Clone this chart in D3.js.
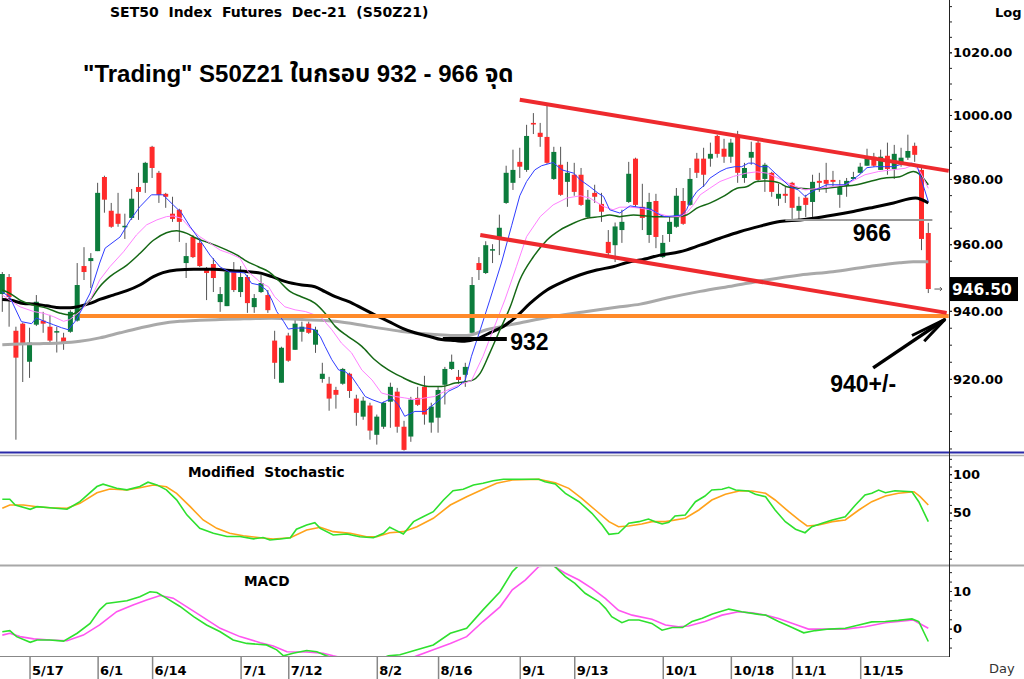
<!DOCTYPE html>
<html>
<head>
<meta charset="utf-8">
<script src="https://cdn.jsdelivr.net/npm/d3@7"></script>
<style>
  body { margin: 0; background: #fff; }
  svg { display: block; font-family: "DejaVu Sans", Verdana, sans-serif; }
</style>
</head>
<body>
<svg id="chart" width="1024" height="679"></svg>
<script>
// ---- data ----
// bar index 0 = 11 May 2021, last bar = index 136
let tickIdx = [4, 14, 22, 35, 42, 55, 64, 76, 84, 97, 107, 116, 126];
let tickLabels = ["5/17", "6/1", "6/14", "7/1", "7/12", "8/2", "8/16", "9/1", "9/13", "10/1", "10/18", "11/1", "11/15"];

let opens = [945.0,950.1,934.1,936.2,925.0,935.9,937.1,935.3,933.6,932.1, 933.8,937.1,953.4,954.9,957.9,980.6,970.2,969.3,965.2,968.0,
  977.5,978.8,990.0,981.9,975.4,969.3,970.5,954.3,962.2,960.4, 952.2,954.0,942.6,941.4,951.6,945.6,950.1,941.1,945.6,944.7,
  931.2,918.9,932.7,928.5,933.8,936.2,930.0,920.0,918.6,916.8, 918.6,921.5,914.3,909.1,912.3,903.9,906.2,913.4,916.3,906.2,
  903.4,914.5,917.7,907.4,908.8,918.3,922.9,920.6,921.2,933.5, 954.3,951.3,958.2,962.2,972.6,978.8,985.3,982.8,997.5,994.4,
  993.1,980.0,984.4,979.1,981.3,981.3,968.3,975.7,972.3,960.7, 959.7,964.3,972.9,986.3,971.4,962.8,973.2,956.1,963.1,965.3,
  973.2,972.0,986.3,986.3,986.3,993.4,989.4,986.9,993.8,980.3, 986.6,991.3,980.0,981.9,973.9,975.4,978.8,970.2,974.2,972.9,
  979.4,979.7,979.7,975.1,977.8,980.0,981.9,984.1,986.9,982.8, 987.2,983.1,985.0,986.6,990.3,982.8,963.4];
let highs = [951.6,951.0,935.3,936.5,935.0,944.7,939.7,938.8,935.3,933.5, 940.2,954.3,959.1,957.3,978.8,981.0,972.6,975.7,969.3,976.9,
  981.9,985.3,990.3,982.5,975.7,974.5,970.8,960.4,962.8,961.9, 953.1,955.8,947.1,952.2,954.6,953.4,950.7,945.0,950.7,946.2,
  934.1,929.4,933.5,937.9,936.8,936.8,935.3,924.7,920.6,917.7, 923.2,921.8,915.4,914.8,913.1,909.7,913.4,918.9,917.4,907.9,
  914.8,917.7,920.9,913.1,917.7,923.5,927.1,922.6,924.7,950.1, 956.1,960.9,960.0,969.0,984.1,989.1,989.7,996.9,1000.6,997.5,
  1003.2,990.0,990.0,985.3,985.0,983.4,976.6,978.2,975.7,964.3, 966.6,970.5,985.3,986.6,978.5,975.7,975.4,962.8,968.3,977.2,
  977.2,983.4,988.1,989.7,991.3,993.8,992.5,992.5,995.0,985.0, 991.6,992.2,985.0,982.2,978.5,977.5,979.1,974.5,975.1,981.3,
  981.9,985.0,982.5,979.7,980.3,982.2,985.0,989.4,988.1,989.1, 991.3,990.6,989.7,993.8,991.3,983.4,966.5];
let lows = [939.7,935.3,902.5,919.1,920.3,935.5,933.5,930.6,927.7,928.5, 933.5,936.8,949.2,946.8,957.9,969.6,965.0,965.3,961.6,967.4,
  967.4,975.7,980.3,972.6,971.1,966.8,960.7,949.8,955.8,953.1, 943.2,945.6,939.7,941.4,945.6,944.1,939.4,939.4,945.3,939.4,
  920.0,918.9,925.0,928.5,930.9,933.2,927.6,918.9,910.8,911.4, 918.3,914.5,906.5,908.2,902.5,901.1,905.6,905.9,904.5,899.4,
  901.9,912.2,906.8,904.5,904.5,912.6,922.6,918.6,917.7,933.5, 949.2,951.0,954.3,956.7,972.3,976.6,980.3,982.2,994.0,990.0,
  984.7,979.7,974.8,971.4,974.8,971.7,968.0,972.6,966.8,956.1, 954.6,960.4,972.6,971.4,964.3,960.4,958.8,955.8,960.7,965.0,
  965.9,971.7,980.3,977.5,983.8,986.6,985.0,985.0,978.8,978.8, 984.4,979.1,976.0,974.5,971.7,972.6,967.7,967.7,968.3,968.3,
  976.0,975.7,977.5,971.1,974.5,980.0,981.6,984.1,983.8,982.8, 981.3,980.0,983.8,985.9,985.3,958.2,945.3];
let closes = [951.0,944.1,926.2,930.3,930.6,942.7,936.2,931.2,934.0,930.6, 939.7,947.7,951.6,955.8,975.7,973.6,965.3,966.2,965.6,973.9,
  976.0,985.0,983.4,975.1,974.5,967.7,966.8,956.4,956.1,953.4, 951.3,949.8,945.0,951.6,946.2,950.1,942.3,943.8,948.3,940.2,
  924.7,929.1,925.3,936.2,935.3,933.5,934.4,921.5,914.3,915.4, 922.9,916.5,910.2,913.7,905.1,909.1,913.1,917.7,906.2,899.6,
  914.0,912.5,909.7,912.0,916.8,922.9,925.0,919.7,923.5,947.7, 952.2,959.7,958.5,965.0,981.9,982.8,983.8,993.4,997.0,993.1,
  985.0,988.4,975.1,981.9,976.0,972.0,973.6,974.5,969.9,957.3, 965.4,966.8,981.6,972.0,968.0,972.9,962.2,960.4,966.8,974.8,
  966.2,980.0,981.9,981.3,987.8,987.8,986.9,991.3,981.9,983.4, 988.4,979.7,984.4,976.0,975.4,974.8,971.1,971.7,972.0,979.1,
  978.8,978.5,979.1,977.5,979.4,980.6,983.8,986.6,984.1,986.9, 983.1,987.8,986.6,988.7,987.5,961.6,946.5];

// moving averages as [bar index, price]
let maBlue = [[0,945.6],[1.1,944.1],[2.8,936.8],[4.3,936.2],[5,937.9],[6.3,936.8],[7.5,935.9],[8.7,935.0],[9.7,934.4],[10.9,937.4],
  [12.9,945.3],[14.3,954.3],[15.1,958.8],[17.3,962.2],[18.8,967.4],[20.2,971.4],[21.9,975.1],[23.6,975.1],[25.1,972.0],[26.3,969.6],
  [27.6,965.3],[29,961.3],[30.5,956.7],[32,953.1],[33.4,951.6],[34.9,951.5],[35.6,951.3],[36.6,948.2],[37.8,947.7],[38.8,946.2],
  [39.6,943.2],[40.3,939.8],[41.3,936.9],[42,934.6],[43,934.9],[44.7,934.9],[45.9,934.4],[46.7,932.4],[47.4,929.5],[48.4,925.6],
  [49.4,922.6],[50.3,922.2],[51.3,920.7],[52.3,917.8],[53.3,914.9],[54.3,914.0],[55.7,913.0],[57.2,914.4],[58.2,912.5],[59.1,909.2],
  [60.6,910.6],[62.1,910.6],[63.6,913.0],[64.5,914.4],[65.5,916.4],[67,917.8],[68,919.7],[68.9,926.6],[70.2,934.4],[71.6,943.2],
  [73.3,954.3],[74.8,965.6],[76,974.8],[77,979.2],[78.2,982.8],[79.2,984.1],[80.9,985.1],[82.2,982.8],[83.9,981.8],[84.9,979.7],
  [86.3,977.6],[87.5,975.6],[88.3,974.6],[89.2,970.5],[90.7,969.5],[92.2,971.7],[93.4,971.3],[94.6,971.0],[95.4,970.5],[96.6,968.9],
  [97.3,968.4],[98.5,968.6],[99.8,968.9],[100.5,970.5],[101,973.0],[102,976.1],[103.2,978.2],[103.9,980.2],[105.4,982.3],[106.4,983.3],
  [107.6,983.8],[108.6,983.8],[109.6,984.9],[110.3,984.9],[111.3,983.8],[112.5,983.8],[113.5,981.8],[114.5,979.9],[115.7,977.6],[116.9,976.6],
  [117.9,974.6],[118.9,976.1],[119.9,977.1],[121.1,978.2],[122.3,978.2],[123.8,978.2],[125,979.9],[126,981.5],[127,983.5],[128.2,983.8],
  [129.6,983.8],[130.9,983.8],[132.1,984.6],[133.6,984.9],[134.3,984.4],[135,979.7],[136,973.0]];
let maPink = [[0,944.7],[1.1,943.2],[2.6,941.2],[4.6,939.8],[6,939.3],[7.5,938.3],[9,936.9],[9.9,937.4],[11.4,939.8],[12.9,943.2],
  [14.3,949.2],[15.8,953.2],[17.8,957.7],[19.7,962.8],[21.2,965.9],[22.7,967.4],[24.1,968.4],[25.1,968.6],[26.3,967.9],[27.6,964.9],
  [29,962.3],[30.5,960.3],[32,958.2],[33.4,957.2],[34.9,955.8],[36.1,951.7],[38.1,948.2],[39.1,947.2],[40,944.2],[41.5,941.2],
  [43,940.3],[44.5,939.8],[45.9,938.8],[46.9,937.9],[48.4,934.4],[49.8,930.5],[51.3,927.6],[52.8,922.6],[54.3,919.7],[55.7,915.9],
  [57.7,914.9],[59.1,914.5],[60.6,914.0],[62.1,914.5],[63.5,914.9],[65,916.4],[66.5,917.8],[67.9,918.8],[68.9,919.5],[70.6,926.6],
  [72.1,934.4],[73.8,943.2],[75.5,953.2],[77,962.3],[79,968.4],[80.9,972.0],[82.9,974.1],[84.9,974.8],[86.3,974.1],[88.3,971.5],
  [89.7,970.5],[90.7,971.3],[92.2,971.3],[93.7,971.0],[95.1,970.5],[96.6,969.2],[98.1,968.4],[99.5,968.4],[100.5,969.5],[101.5,972.0],
  [102.5,975.1],[103.9,977.1],[105.4,979.2],[107.4,980.8],[109.3,981.8],[110.8,982.2],[112.3,981.8],[113.7,980.5],[115.9,978.2],[117.9,976.6],
  [119.9,977.1],[121.8,977.6],[123.8,978.2],[125.2,979.7],[126.7,981.3],[128.7,982.3],[130.6,982.8],[132.6,983.3],[133.8,984.4],[134.8,982.3],[136,977.1]];
let maGreen = [[0,946.2],[1.1,945.2],[2.6,943.2],[4.6,941.7],[6.5,940.8],[8.5,939.3],[9.9,938.8],[11.4,940.3],[12.9,943.2],[14.3,947.2],
  [15.8,950.2],[18.3,953.7],[20.2,957.2],[22.2,961.2],[24.1,963.5],[25.6,964.1],[27.1,963.3],[28.5,961.8],[30.5,960.3],[33,958.2],
  [34.9,956.2],[35.6,955.2],[37.6,953.2],[39.1,951.7],[40.5,949.2],[42.3,945.7],[43.9,944.2],[45.9,942.3],[47.4,939.3],[48.9,935.4],
  [50.8,932.4],[52.8,929.5],[54.7,925.6],[56.7,922.6],[58.7,920.5],[60.6,918.8],[62.6,917.8],[64.5,917.8],[66.5,918.8],[68.9,919.5],
  [70.2,921.7],[71.6,927.6],[73.1,934.4],[74.6,941.2],[76,949.2],[78,956.2],[80,961.3],[81.9,964.3],[83.9,966.4],[85.8,967.9],
  [87.8,968.4],[89.2,968.9],[90.7,968.4],[92.7,968.9],[95.6,968.4],[97.1,968.4],[99.1,968.4],[100.5,968.9],[102,971.0],[104,972.6],
  [105.9,974.6],[107.9,977.1],[109.3,977.6],[110.8,979.2],[112.3,979.4],[113.3,979.2],[114.2,978.7],[115.2,977.6],[117.2,977.1],[119.1,976.8],
  [121.1,977.1],[123,977.6],[125.5,978.2],[127.4,979.2],[129.4,980.2],[131.8,980.7],[133.8,982.3],[134.8,981.3],[136,978.2]];
let maBlack = [[0,943.4],[1.1,943.2],[3.1,942.2],[4.6,942.0],[6.5,941.5],[8.5,940.9],[10,940.9],[11.4,941.4],[12.9,942.2],[14.3,943.4],
  [16.3,944.7],[18.3,946.0],[20.2,947.7],[22.2,950.2],[23.6,951.4],[25.6,952.2],[28.1,952.4],[31,952.4],[33.9,952.0],[36.1,951.7],
  [38.1,951.2],[39.6,950.2],[41.5,948.8],[44,947.7],[45.9,947.2],[47.4,945.7],[48.9,944.2],[50.8,942.8],[52.8,940.8],[54.7,938.8],
  [56.7,936.9],[58.7,934.9],[60.6,933.5],[62.6,932.5],[64.5,931.5],[66.5,931.2],[67.9,931.0],[69.7,931.7],[71.6,933.5],[73.6,935.4],
  [75.5,938.3],[77.5,942.2],[80,946.2],[82.4,948.7],[84.8,950.7],[87.3,952.2],[89.7,953.2],[92.2,954.7],[93.7,955.2],[96.6,956.7],
  [99.5,957.7],[102.5,959.7],[105.4,961.8],[108.3,963.8],[111.3,965.5],[114.2,966.9],[117.2,967.4],[119.1,967.9],[122.1,968.9],[125,970.0],
  [128,971.3],[130.9,972.6],[134.1,974.1],[136,972.6]];
let maGray = [[0,930.0],[2.6,930.2],[5.5,930.3],[8.5,930.5],[11.4,931.0],[14.3,932.0],[17.3,933.5],[20.2,934.9],[23.2,936.2],[26.1,936.9],
  [29,937.2],[32,937.4],[34.9,937.6],[39.6,937.8],[44,937.4],[48.9,936.9],[53.8,935.4],[58.7,933.9],[63.5,933.0],[66.2,932.7],
  [68.2,932.7],[71.1,934.4],[76,936.4],[80.9,938.3],[85.8,939.8],[90.7,941.2],[93.7,942.0],[97.6,943.8],[102.5,945.8],[107.4,947.5],
  [112.2,949.2],[117.2,950.7],[122,951.7],[127,953.2],[131.8,954.4],[133.8,954.7],[136,954.7]];

// modified stochastic, [bar index, value]
let stochK = [[0,67.3],[1.1,67.3],[1.9,59.9],[4.1,54.3],[5.1,57.7],[7,56.4],[9.5,54.3],[11.4,64.3],[13.9,83.9],[14.8,87.0],
  [16.8,81.8],[18.3,79.6],[20.2,83.9],[21.4,89.6],[22.7,86.1],[24.1,79.6],[25.6,66.6],[27.1,47.1],[29,29.7],[31,23.2],
  [33,18.8],[34.9,18.8],[36.9,15.8],[38.3,17.5],[39.3,14.3],[40.8,15.6],[42.3,17.3],[43.2,28.3],[44.7,33.9],[45.9,36.8],
  [46.7,29.5],[48.6,20.8],[50.6,22.1],[52.5,18.6],[54.5,17.3],[56,23.0],[56.9,30.9],[57.9,26.5],[58.9,22.1],[60.4,38.2],
  [61.8,44.7],[63.3,51.2],[64.8,66.4],[66.2,78.5],[67.7,80.3],[69.2,85.9],[70.6,88.1],[72.1,91.5],[73.6,93.4],[78.8,93.4],
  [79.7,90.2],[81.2,87.2],[82.7,75.1],[84.7,64.2],[86.6,49.1],[88.1,33.9],[89.1,21.7],[90.5,23.0],[91.5,31.6],[92,36.1],
  [93.5,38.2],[94.9,41.7],[95.9,38.2],[96.9,35.2],[97.9,37.4],[98.8,45.6],[100.3,46.9],[101.8,64.2],[103.2,71.6],[104.2,79.4],
  [105.7,80.3],[106.7,82.9],[107.7,79.4],[109.6,78.1],[110.6,73.8],[112.1,70.7],[113.5,53.4],[115,38.2],[116.5,28.3],[117.9,23.8],
  [118.9,31.6],[120.4,36.1],[121.9,40.4],[123.8,44.7],[125.3,59.9],[126.7,72.9],[127.7,75.1],[128.7,79.4],[129.7,75.9],[131.1,78.5],
  [133.6,77.2],[134.6,64.2],[136,38.2]];
let stochD = [[0,55.6],[1.1,59.9],[3.1,59.9],[5.1,57.7],[7,56.4],[9.5,55.6],[11.4,62.1],[13.9,75.9],[15.8,80.7],[18.3,79.4],
  [20.2,82.4],[22.2,85.9],[24.1,83.7],[25.6,75.1],[27.6,57.7],[29.5,40.4],[31.5,29.5],[33.4,23.0],[35.4,19.9],[37.9,17.3],
  [39.8,15.6],[42.3,17.3],[44.7,27.3],[46.7,30.9],[48.6,25.2],[51.1,23.0],[53.5,18.6],[55,18.6],[56.9,23.8],[58.9,25.2],
  [60.9,31.6],[63.3,42.6],[65.8,59.9],[68.2,70.7],[70.6,80.3],[72.6,88.1],[74.9,92.4],[78.8,93.4],[81.2,88.9],[83.2,81.6],
  [85.1,68.6],[87.1,53.4],[89.1,38.2],[90.5,31.6],[92,32.6],[93.9,35.2],[95.4,38.2],[97.4,38.2],[100.3,42.6],[102.3,53.4],
  [104.2,66.4],[106.2,73.8],[108.2,78.1],[110.1,78.1],[112.1,75.1],[113.5,66.4],[115.5,51.2],[117,40.4],[118.2,32.6],[119.9,33.9],
  [121.9,38.2],[123.8,40.4],[125.8,53.4],[127.7,64.2],[129.7,71.6],[131.6,75.1],[133.9,77.2],[134.8,70.7],[136,59.9]];

// MACD, [bar index, value]
let macdLine = [[0,-0.8],[1.1,-0.5],[2.1,-2.1],[4.1,-3.6],[5.1,-3.0],[7,-3.0],[9,-3.3],[11,-1.2],[12.9,1.4],[14.3,5.0],
  [15.3,6.7],[18.3,7.4],[20.2,8.5],[21.7,9.8],[22.7,9.6],[24.1,8.1],[26.1,5.9],[28.1,3.2],[30,1.0],[32,-0.8],
  [33.9,-3.0],[35.9,-3.9],[38.8,-4.3],[40.3,-5.6],[41.3,-7.2],[42.7,-6.5],[44.7,-5.8],[46.2,-6.1],[47.6,-7.2],[50,-8.6],
  [53,-9.2],[55,-8.4],[56.7,-7.2],[58.4,-6.9],[60.9,-5.6],[63.3,-4.3],[65.8,-1.2],[68.2,0.1],[70.6,5.0],[73.1,9.8],
  [74.9,15.1],[76.5,18.0],[78.5,19.5],[80,18.5],[81.2,16.4],[82.7,13.8],[84.1,12.0],[85.6,9.4],[87.6,7.2],[88.6,5.4],
  [89.5,3.2],[91,1.6],[92,2.3],[93.5,2.3],[95.4,1.4],[96.9,-0.4],[98.4,0.3],[99.9,0.3],[101.3,1.9],[102.8,2.8],
  [104.3,3.9],[106.7,5.2],[108.6,4.5],[111.1,3.8],[112.1,3.6],[114,1.9],[116,0.3],[117.7,-1.1],[119.4,-0.5],[121.4,-0.1],
  [123.8,0.1],[125.8,1.0],[127.7,1.8],[129.7,1.9],[131.6,2.2],[133.6,2.6],[134.6,1.9],[136,-3.4]];
let signalLine = [[0,-1.7],[1.1,-1.2],[2.6,-2.1],[4.6,-2.7],[7,-3.0],[9.5,-3.2],[11.9,-1.7],[14.3,1.0],[16.8,4.5],[19.2,6.3],
  [21.2,7.6],[23.2,8.8],[25.1,8.1],[27.1,5.8],[29,3.6],[32,0.1],[34.9,-2.1],[37.9,-3.7],[39.8,-4.6],[41.8,-6.1],
  [44.7,-6.2],[47.1,-6.5],[48.6,-7.2],[52,-8.5],[57,-8.8],[60,-7.8],[60.9,-7.2],[63.3,-5.6],[65.8,-3.9],[68.2,-2.1],
  [70.6,1.9],[73.1,5.8],[74.9,10.3],[76.8,12.9],[78.8,16.5],[80.8,16.8],[82.7,14.7],[84.7,12.9],[86.6,10.7],[88.6,8.0],
  [90.5,4.9],[92.5,3.6],[95.4,2.5],[97.4,1.0],[99.3,0.5],[100.8,0.7],[103.2,1.9],[105.7,3.6],[108.1,4.5],[110.1,4.2],
  [112.1,3.6],[114,2.7],[116.5,1.1],[118.4,-0.1],[121.4,-0.1],[123.8,-0.1],[126.7,0.5],[129.7,1.6],[131.6,1.9],[133.8,2.3],[136,0.1]];

// drawn annotations, [bar index, price]
let upperTrend = [[76, 1004.8], [139, 982.5]];
let lowerTrend = [[70.2, 962.8], [138.7, 939.4]];
let supportLine = [[11.4, 938.5], [139, 938.5]];
let low932 = [[64.7, 931.7], [74.1, 931.7]];
let level966 = [[115, 967.4], [136.6, 967.4]];
let arrowShaft = [[127.9, 923.2], [138.4, 937.4]];
let arrowHead = [[133.6, 932.7], [138.4, 937.4], [135.4, 931.0]];
let lastPrice = 946.5;

// ---- layout ----
let svg = d3.select("#chart");
let w = 1024;
let axisX = 949;
let mainBottom = 452;
let sansBold = "'Liberation Sans', Arial, 'Noto Sans Thai', 'Noto Sans', sans-serif";

let x = d3.scaleLinear().domain([0, 136]).range([2.3, 928.3]);
let yMain = d3.scaleLog().domain([899, 1037]).range([mainBottom, 0]);
let yStoch = d3.scaleLinear().domain([0, 100]).range([551, 474.2]);
let yMacd = d3.scaleLinear().domain([0, 10]).range([628.7, 591]);

let green = "#0c7c3c";
let red = "#ff2b2b";

let defs = svg.append("defs");
let addClip = (id, y0, y1) => {
  defs.append("clipPath").attr("id", id)
    .append("rect").attr("x", 0).attr("y", y0).attr("width", axisX).attr("height", y1 - y0);
};
addClip("clipMain", 0, mainBottom);
addClip("clipStoch", 457, 564);
addClip("clipMacd", 567, 656);

// ---- panel frames ----
svg.append("line").attr("x1", 0).attr("x2", w).attr("y1", 452.5).attr("y2", 452.5)
  .attr("stroke", "#2a2aa8").attr("stroke-width", 2);
svg.append("line").attr("x1", 0).attr("x2", w).attr("y1", 455.5).attr("y2", 455.5)
  .attr("stroke", "#b0b0b0").attr("stroke-width", 1.5);
svg.append("line").attr("x1", 0).attr("x2", w).attr("y1", 565.5).attr("y2", 565.5)
  .attr("stroke", "#a8a8a8").attr("stroke-width", 2);
svg.append("line").attr("x1", 0).attr("x2", axisX).attr("y1", 656.5).attr("y2", 656.5)
  .attr("stroke", "#888").attr("stroke-width", 1);
svg.append("line").attr("x1", axisX + 0.5).attr("x2", axisX + 0.5).attr("y1", 0).attr("y2", 657)
  .attr("stroke", "#222").attr("stroke-width", 1);

// ---- main panel ----
let main = svg.append("g").attr("clip-path", "url(#clipMain)");
let bars = opens.map((o, i) => ({ i: i, o: o, h: highs[i], l: lows[i], c: closes[i] }));

main.selectAll("line.wick").data(bars).enter().append("line")
  .attr("class", "wick")
  .attr("x1", d => x(d.i)).attr("x2", d => x(d.i))
  .attr("y1", d => yMain(d.h)).attr("y2", d => yMain(d.l))
  .attr("stroke", "#555").attr("stroke-width", 1);
main.selectAll("rect.body").data(bars).enter().append("rect")
  .attr("class", "body")
  .attr("x", d => x(d.i) - 2.5).attr("width", 5)
  .attr("y", d => yMain(Math.max(d.o, d.c)))
  .attr("height", d => Math.max(1.5, Math.abs(yMain(d.o) - yMain(d.c))))
  .attr("fill", d => d.c >= d.o ? green : red);

let priceLine = (curve) => d3.line().x(d => x(d[0])).y(d => yMain(d[1])).curve(curve);
let drawMa = (data, color, width, curve) => {
  main.append("path").datum(data)
    .attr("d", priceLine(curve))
    .attr("fill", "none").attr("stroke", color).attr("stroke-width", width)
    .attr("stroke-linejoin", "round");
};
drawMa(maGray, "#a9a9a9", 3, d3.curveMonotoneX);
drawMa(maBlack, "#000", 3, d3.curveMonotoneX);
drawMa(maGreen, "#156815", 1.5, d3.curveMonotoneX);
drawMa(maPink, "#ff80ff", 1, d3.curveLinear);
drawMa(maBlue, "#2f3cff", 1, d3.curveLinear);

// annotations
let annot = svg.append("g");
let segment = (data, color, width) => {
  annot.append("path").datum(data)
    .attr("d", priceLine(d3.curveLinear))
    .attr("fill", "none").attr("stroke", color).attr("stroke-width", width)
    .attr("stroke-linecap", "butt").attr("stroke-linejoin", "round");
};
segment(level966, "#999", 2);
segment(supportLine, "#ff8a2a", 4);
segment(upperTrend, "#ee2a2e", 4);
segment(lowerTrend, "#ee2a2e", 4);
segment(low932, "#000", 4);
segment(arrowShaft, "#000", 3.5);
segment(arrowHead, "#000", 3);

let bigText = (label, idx, price) => {
  annot.append("text").attr("x", x(idx)).attr("y", yMain(price))
    .style("font-family", sansBold)
    .attr("font-weight", "bold").attr("font-size", 23)
    .attr("fill", "#000").text(label);
};
bigText("932", 74.6, 928.5);
bigText("966", 124.9, 961.0);
bigText("940+/-", 121.6, 916.1);

// small marker by the last price
annot.append("path")
  .attr("d", `M${x(136.9)},${yMain(lastPrice)}H${x(138.0)}l-2,-2M${x(138.0)},${yMain(lastPrice)}l-2,2`)
  .attr("stroke", "#333").attr("stroke-width", 0.8).attr("fill", "none");

// ---- stochastic panel ----
let stochG = svg.append("g").attr("clip-path", "url(#clipStoch)");
let stochPath = d3.line().x(d => x(d[0])).y(d => yStoch(d[1])).curve(d3.curveLinear);
stochG.append("path").datum(stochD).attr("d", stochPath)
  .attr("fill", "none").attr("stroke", "#ffa21a").attr("stroke-width", 1.6);
stochG.append("path").datum(stochK).attr("d", stochPath)
  .attr("fill", "none").attr("stroke", "#2ee02e").attr("stroke-width", 1.6);

// ---- MACD panel ----
let macdG = svg.append("g").attr("clip-path", "url(#clipMacd)");
let macdPath = d3.line().x(d => x(d[0])).y(d => yMacd(d[1])).curve(d3.curveLinear);
macdG.append("path").datum(signalLine).attr("d", macdPath)
  .attr("fill", "none").attr("stroke", "#ff55f0").attr("stroke-width", 1.6);
macdG.append("path").datum(macdLine).attr("d", macdPath)
  .attr("fill", "none").attr("stroke", "#2ee02e").attr("stroke-width", 1.6);

// ---- right axes ----
let styleAxis = (g) => {
  g.select(".domain").remove();
  g.attr("font-family", "'DejaVu Sans', Verdana, sans-serif")
    .attr("font-size", 13).attr("font-weight", "bold");
  g.selectAll(".tick line").attr("stroke", "#222");
  g.selectAll(".tick text").attr("fill", "#000");
};
let minorAxis = (scale, values) => {
  svg.append("g").attr("transform", `translate(${axisX},0)`)
    .call(d3.axisRight(scale).tickValues(values).tickSize(3).tickFormat(""))
    .call(styleAxis);
};
minorAxis(yMain, d3.range(900, 1036, 5));
minorAxis(yStoch, d3.range(-10, 121, 10));
minorAxis(yMacd, d3.range(-5, 16, 2.5));

svg.append("g").attr("transform", `translate(${axisX},0)`)
  .call(d3.axisRight(yMain).tickValues([920, 940, 960, 980, 1000, 1020])
    .tickFormat(d3.format(".2f")).tickSize(3).tickPadding(1))
  .call(styleAxis);
svg.append("g").attr("transform", `translate(${axisX},0)`)
  .call(d3.axisRight(yStoch).tickValues([50, 100]).tickFormat(d3.format("d")).tickSize(3).tickPadding(1))
  .call(styleAxis);
svg.append("g").attr("transform", `translate(${axisX},0)`)
  .call(d3.axisRight(yMacd).tickValues([0, 10]).tickFormat(d3.format("d")).tickSize(3).tickPadding(1))
  .call(styleAxis);

// last price box
let lastY = yMain(lastPrice);
svg.append("rect").attr("x", axisX + 1).attr("y", lastY - 12).attr("width", 68).attr("height", 24).attr("fill", "#000");
svg.append("text").attr("x", axisX + 3).attr("y", lastY).attr("dy", "0.36em")
  .attr("font-weight", "bold").attr("font-size", 15.5).attr("fill", "#fff")
  .text(d3.format(".2f")(lastPrice));

// ---- bottom date axis ----
let xAxisG = svg.append("g").attr("transform", "translate(0,656)")
  .call(d3.axisBottom(x).tickValues(tickIdx).tickFormat((d, i) => tickLabels[i]).tickSize(23).tickPadding(0));
xAxisG.select(".domain").remove();
xAxisG.selectAll(".tick line").attr("stroke", "#888").attr("stroke-width", 1.5);
xAxisG.selectAll(".tick text")
  .attr("text-anchor", "start").attr("x", 2).attr("y", 19).attr("dy", 0)
  .attr("font-family", "'DejaVu Sans', Verdana, sans-serif")
  .attr("font-size", 13).attr("font-weight", "bold").attr("fill", "#000");

// ---- titles ----
svg.append("text").attr("x", 110).attr("y", 16.5)
  .attr("font-weight", "bold").attr("font-size", 14).style("white-space", "pre")
  .text("SET50  Index  Futures  Dec-21  (S50Z21)");
svg.append("text").attr("x", 83).attr("y", 82)
  .style("font-family", sansBold)
  .attr("font-weight", "bold").attr("font-size", 24)
  .text("\"Trading\" S50Z21 ในกรอบ 932 - 966 จุด");
svg.append("text").attr("x", 995).attr("y", 16.5)
  .attr("font-weight", "bold").attr("font-size", 13).text("Log");
svg.append("text").attr("x", 188).attr("y", 476.5)
  .attr("font-weight", "bold").attr("font-size", 13.7).style("white-space", "pre")
  .text("Modified  Stochastic");
svg.append("text").attr("x", 244).attr("y", 585.5)
  .attr("font-weight", "bold").attr("font-size", 13.7).text("MACD");
svg.append("text").attr("x", 989).attr("y", 673)
  .attr("font-size", 13).attr("fill", "#333").text("Day");
</script>
</body>
</html>
